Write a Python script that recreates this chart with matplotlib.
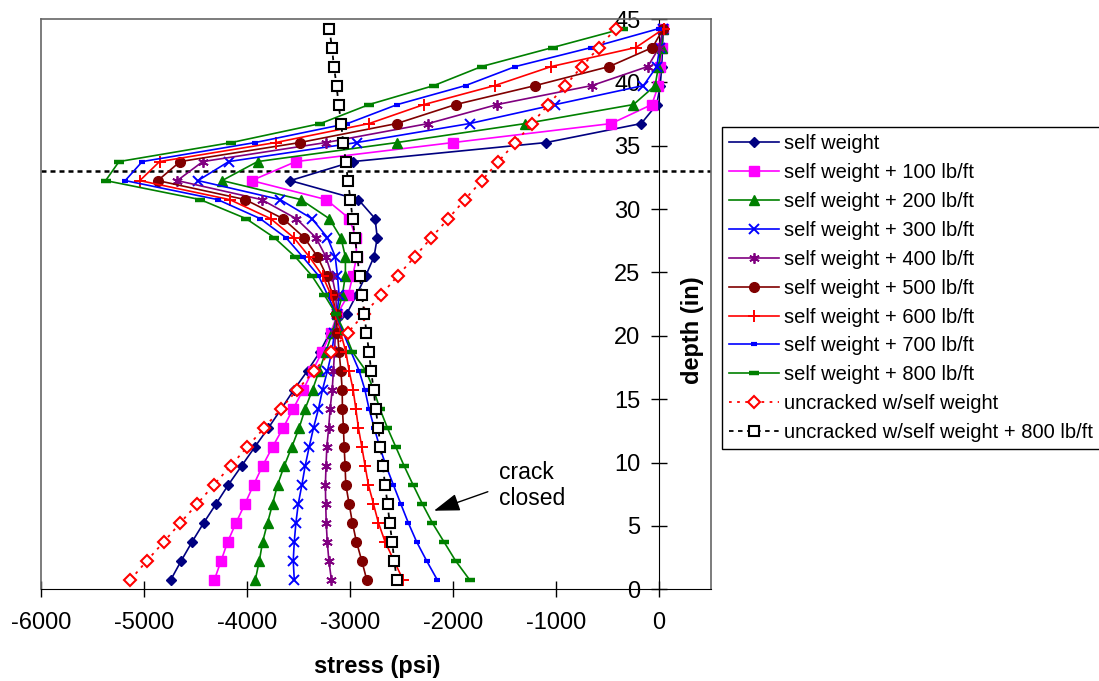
import matplotlib
matplotlib.use("Agg")
import matplotlib.pyplot as plt

plt.rcParams['font.family'] = ['Liberation Sans', 'DejaVu Sans']
plt.rcParams['axes.unicode_minus'] = False

# depth of each layer mid-point (in)
depth = [0.75, 2.25, 3.75, 5.25, 6.75, 8.25, 9.75, 11.25, 12.75, 14.25,
         15.75, 17.25, 18.75, 20.25, 21.75, 23.25, 24.75, 26.25, 27.75, 29.25,
         30.75, 32.25, 33.75, 35.25, 36.75, 38.25, 39.75, 41.25, 42.75, 44.25]

# stress (psi), cracked section
sw = [-4738, -4637, -4531, -4418, -4298, -4179, -4050, -3921, -3790, -3665,
      -3543, -3411, -3290, -3195, -3030, -2935, -2846, -2766, -2735, -2756,
      -2918, -3579, -2972, -1098, -174, -23, 10, 25, 32, 40]
sw100 = [-4315, -4250, -4186, -4105, -4018, -3934, -3847, -3750, -3647, -3550,
         -3453, -3363, -3268, -3185, -3121, -3015, -2972, -2935, -2943, -3005,
         -3230, -3954, -3524, -2001, -465, -71, -7, 10, 25, 40]
sw200 = [-3918, -3879, -3847, -3799, -3750, -3702, -3637, -3563, -3492, -3434,
         -3363, -3298, -3234, -3170, -3121, -3073, -3044, -3044, -3088, -3201,
         -3476, -4240, -3896, -2546, -1297, -249, -39, -7, 25, 40]
sw300 = [-3540, -3550, -3540, -3524, -3501, -3466, -3434, -3395, -3353, -3305,
         -3266, -3218, -3175, -3150, -3125, -3105, -3121, -3143, -3218, -3369,
         -3677, -4474, -4176, -2935, -1839, -1007, -152, -23, 5, 40]
sw400 = [-3180, -3204, -3220, -3230, -3235, -3238, -3232, -3224, -3206, -3192,
         -3172, -3160, -3150, -3140, -3130, -3137, -3175, -3234, -3330, -3521,
         -3857, -4675, -4428, -3234, -2240, -1572, -652, -110, 0, 40]
sw500 = [-2837, -2885, -2937, -2976, -3008, -3040, -3047, -3056, -3063, -3073,
         -3075, -3088, -3105, -3121, -3137, -3170, -3227, -3315, -3443, -3650,
         -4016, -4864, -4647, -3487, -2546, -1975, -1200, -484, -65, 40]
sw600 = [-2485, -2572, -2659, -2724, -2772, -2821, -2853, -2885, -2918, -2943,
         -2969, -3008, -3040, -3090, -3137, -3185, -3266, -3395, -3545, -3770,
         -4166, -5038, -4847, -3721, -2814, -2282, -1594, -1046, -226, 48]
sw700 = [-2153, -2256, -2353, -2434, -2507, -2579, -2650, -2712, -2765, -2815,
         -2855, -2911, -2990, -3065, -3137, -3218, -3305, -3460, -3621, -3871,
         -4283, -5180, -5015, -3920, -3024, -2540, -1878, -1394, -658, 0]
sw800 = [-1839, -1975, -2088, -2201, -2298, -2388, -2475, -2556, -2637, -2710,
         -2770, -2846, -2976, -3050, -3137, -3250, -3370, -3532, -3734, -4008,
         -4452, -5370, -5240, -4150, -3286, -2814, -2185, -1723, -1033, -346]

# stress (psi), uncracked section
unc_sw = [-5130, -4970, -4805, -4645, -4480, -4320, -4155, -3995, -3830, -3670,
          -3510, -3345, -3185, -3020, -2860, -2695, -2535, -2370, -2210, -2045,
          -1885, -1720, -1560, -1395, -1235, -1075, -910, -750, -585, -420]
unc_sw800 = [-2545, -2570, -2590, -2615, -2635, -2660, -2680, -2705, -2725, -2750,
             -2770, -2795, -2815, -2840, -2860, -2885, -2905, -2930, -2950, -2975,
             -2995, -3020, -3040, -3065, -3085, -3110, -3130, -3155, -3175, -3200]

labels = ["self weight", "self weight + 100 lb/ft", "self weight + 200 lb/ft",
          "self weight + 300 lb/ft", "self weight + 400 lb/ft", "self weight + 500 lb/ft",
          "self weight + 600 lb/ft", "self weight + 700 lb/ft", "self weight + 800 lb/ft",
          "uncracked w/self weight", "uncracked w/self weight + 800 lb/ft"]

crack_depth = 33
xticks = [-6000, -5000, -4000, -3000, -2000, -1000, 0]
xtick_labels = ["-6000", "-5000", "-4000", "-3000", "-2000", "-1000", "0"]
yticks = [0, 5, 10, 15, 20, 25, 30, 35, 40, 45]

series = [sw, sw100, sw200, sw300, sw400, sw500, sw600, sw700, sw800, unc_sw, unc_sw800]
styles = [
    dict(color='#000080', marker='D', ms=5, lw=1.2),
    dict(color='#FF00FF', marker='s', ms=6.5, lw=1.2),
    dict(color='#008000', marker='^', ms=7.5, lw=1.2),
    dict(color='#0000FF', marker='x', ms=7, mew=1.4, lw=1.2),
    dict(color='#800080', marker=(6, 2, 0), ms=7.5, mew=1.3, lw=1.2),
    dict(color='#800000', marker='o', ms=7, lw=1.2),
    dict(color='#FF0000', marker='+', ms=8, mew=1.4, lw=1.2),
    dict(color='#0000FF', marker='_', ms=5, mew=3, lw=1.2),
    dict(color='#008000', marker='_', ms=7, mew=3.2, lw=1.2),
    dict(color='#FF0000', marker='D', ms=6, mfc='white', mec='#FF0000', mew=1.5,
         lw=1.3, ls=(0, (1.5, 3))),
    dict(color='black', marker='s', ms=6.5, mfc='white', mec='black', mew=1.5,
         lw=1.3, ls=(0, (2.5, 2.5))),
]

W, H = 1099, 681
fig = plt.figure(figsize=(W / 100, H / 100), dpi=100)
ax = fig.add_axes([40.7 / W, (H - 589.3) / H, (710.7 - 40.7) / W, (589.3 - 19) / H])

ax.axhline(crack_depth, color='black', lw=1.8, ls=(0, (2, 1.6)), zorder=1)

for vals, lab, st in zip(series, labels, styles):
    ax.plot(vals, depth, label=lab, zorder=3, **st)

ax.set_xlim(-6000, 500)
ax.set_ylim(0, 45)
ax.set_xticks(xticks)
ax.set_xticklabels(xtick_labels)
ax.set_yticks(yticks)

# y axis sits at zero stress; the plot frame is a thin grey box
ax.spines['left'].set_position(('data', 0))
ax.spines['left'].set_color('black')
ax.spines['bottom'].set_color('black')
for s in ('top', 'right'):
    ax.spines[s].set_color('#666666')
    ax.spines[s].set_linewidth(1.2)
ax.plot([0, 0], [0, 1], transform=ax.transAxes, color='#666666', lw=1.2, clip_on=False)

ax.tick_params(axis='both', direction='inout', length=11, width=1, labelsize=17)
ax.tick_params(axis='y', pad=8)
ax.tick_params(axis='x', pad=11)

fig.text(377.5 / W, (H - 666) / H, 'stress (psi)', fontsize=17, fontweight='bold',
         ha='center', va='center')
fig.text(692 / W, (H - 330) / H, 'depth (in)', fontsize=17, fontweight='bold',
         ha='center', va='center', rotation=90)

ax.text(-1556, 8.19, 'crack\nclosed', fontsize=16.5, ha='left', va='center',
        linespacing=1.15)
ax.annotate('', xy=(-2185, 6.2), xytext=(-1662, 7.7),
            arrowprops=dict(arrowstyle='-|>,head_length=0.8,head_width=0.27',
                            color='black', lw=1, mutation_scale=20,
                            shrinkA=0, shrinkB=0))

leg = ax.legend(loc='upper left', bbox_to_anchor=(721.7 / W, (H - 127.3) / H),
                bbox_transform=fig.transFigure, fontsize=14.5, frameon=True,
                fancybox=False, edgecolor='black', framealpha=1, borderpad=0.35,
                labelspacing=0.49, handlelength=2.5, handletextpad=0.25,
                borderaxespad=0, numpoints=1)
leg.get_frame().set_linewidth(1.0)

fig.savefig('out.png', dpi=100)
